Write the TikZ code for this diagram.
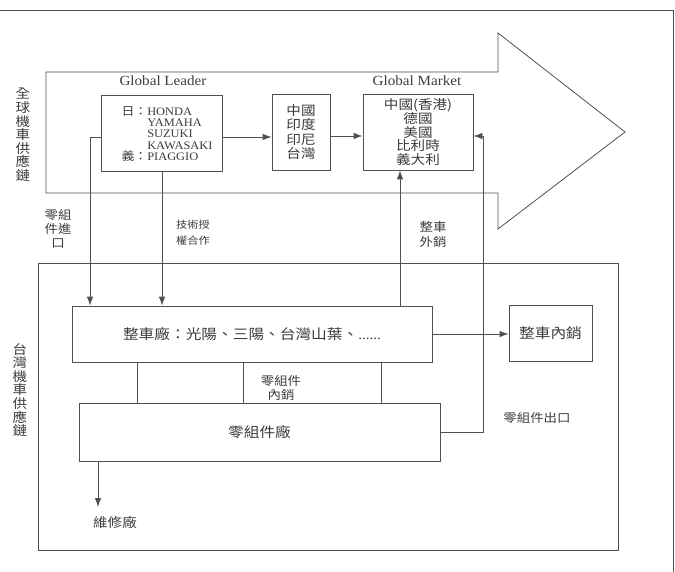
\documentclass[tikz,border=0pt]{standalone}
\usepackage{fontspec}
\usepackage{tikz}
\usetikzlibrary{arrows.meta}
\setmainfont[FakeStretch=1.08]{Liberation Serif}
\newfontfamily\cjk[FakeStretch=1.12]{Noto Sans CJK TC}
\definecolor{framegray}{RGB}{80,80,80}
\definecolor{inkgray}{RGB}{60,60,60}

\begin{document}
\begin{tikzpicture}[x=1pt,y=-1pt,line width=0.8pt,color=framegray,
    >={Latex[length=9pt,width=6.5pt]},
    box/.style={draw,text=inkgray,inner sep=0pt,align=center},
    tag/.style={text=inkgray,inner sep=0pt,align=center,font=\cjk\fontsize{12}{14}\selectfont}]
  \useasboundingbox (0,0) rectangle (675,572);
  % page frame (top and right edge)
  \draw (0,10) -- (673,10) -- (673,572);
  % big arrow: global chain
  \draw (46,72) -- (498,72) -- (498,33) -- (625,132) -- (498,229) -- (498,193) -- (46,193) -- cycle;
  % frame of the Taiwan chain
  \draw (38,263) rectangle (618,550);
  % side labels
  \node[tag,font=\cjk\fontsize{13}{13.6}\selectfont] (globe) at (23,135) {全\\球\\機\\車\\供\\應\\鏈};
  \node[tag,font=\cjk\fontsize{13}{13.6}\selectfont] (taiwan) at (20,390) {台\\灣\\機\\車\\供\\應\\鏈};
  % global level
  \node[text=inkgray,font=\fontsize{14}{14}\selectfont] (leadtitle) at (163,81) {Global Leader};
  \node[text=inkgray,font=\fontsize{14}{14}\selectfont] (mkttitle) at (417,81) {Global Market};
  \node[box,minimum width=121pt,minimum height=76pt] (gl) at (162,133) {};
  \node[text=inkgray,align=left,inner sep=0pt,font=\fontsize{11.5}{11.3}\selectfont] (glnames) at (167,134)
    {{\cjk 日：}HONDA\\ \hphantom{\cjk 日：}YAMAHA\\ \hphantom{\cjk 日：}SUZUKI\\
     \hphantom{\cjk 日：}KAWASAKI\\ {\cjk 義：}PIAGGIO};
  \node[box,minimum width=58pt,minimum height=76pt,font=\cjk\fontsize{13}{14.3}\selectfont] (asia) at (301,132)
    {中國\\印度\\印尼\\台灣};
  \node[box,minimum width=110pt,minimum height=76pt,font=\cjk\fontsize{13}{13.5}\selectfont] (mkt) at (418,132)
    {中國(香港)\\德國\\美國\\比利時\\義大利};
  % Taiwan level
  \node[box,minimum width=360pt,minimum height=56pt,font=\cjk\fontsize{14}{16}\selectfont] (veh) at (252,334)
    {整車廠：光陽、三陽、台灣山葉、{\rmfamily ......}};
  \node[box,minimum width=361pt,minimum height=58pt,font=\cjk\fontsize{14}{16}\selectfont] (parts) at (259.5,432) {零組件廠};
  \node[box,minimum width=83pt,minimum height=56pt,font=\cjk\fontsize{14}{16}\selectfont] (dom) at (550.5,333) {整車內銷};
  \node[tag,font=\cjk\fontsize{13}{14}\selectfont] (repair) at (115,522) {維修廠};
  % connector labels
  \node[tag] (importtag) at (58,229) {零組\\件進\\口};
  \node[tag,font=\cjk\fontsize{10}{16}\selectfont] (techtag) at (193,233) {技術授\\權合作};
  \node[tag,font=\cjk\fontsize{12}{15}\selectfont] (exporttag) at (433,234.5) {整車\\外銷};
  \node[tag] (suppltag) at (281,387.5) {零組件\\內銷};
  \node[tag] (partsouttag) at (537,418) {零組件出口};
  % connectors
  \coordinate (imp) at (90,137);
  \coordinate (pout) at (483,432);
  \coordinate (rin) at (98,507);
  \draw[->] ([yshift=-4pt]gl.west) -- (imp) -- (imp |- veh.north);
  \draw[->] (gl.south) -- (gl.south |- veh.north);
  \draw[->] ([yshift=-4pt]gl.east) -- ([yshift=-4pt]gl.east -| asia.west);
  \draw[->] ([yshift=-4pt]asia.east) -- ([yshift=-4pt]asia.east -| mkt.west);
  \draw[->] ([xshift=-18pt]mkt.south |- veh.north) -- ([xshift=-18pt]mkt.south);
  \draw[->] (parts.east) -- (pout) |- ([yshift=-4pt]mkt.east);
  \draw[->] (veh.east) -- (veh.east -| dom.west);
  \foreach \x in {137,243,381}
    \draw (veh.south -| \x,0) -- (parts.north -| \x,0);
  \draw[->] (parts.south -| rin) -- (rin);
\end{tikzpicture}
\end{document}
